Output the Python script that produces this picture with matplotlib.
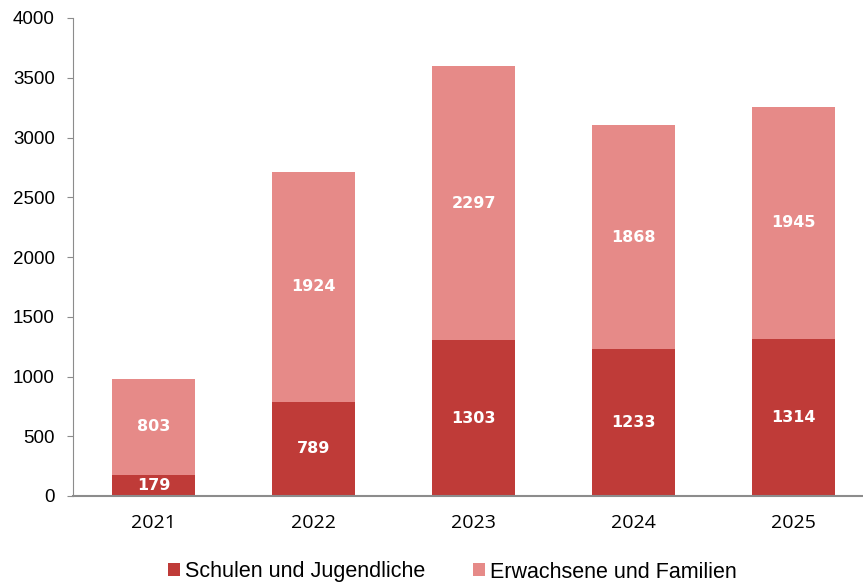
import matplotlib
matplotlib.use("Agg")
import matplotlib.pyplot as plt
import numpy as np

years = ["2021", "2022", "2023", "2024", "2025"]
schulen = [179, 789, 1303, 1233, 1314]
erwachsene = [803, 1924, 2297, 1868, 1945]
series_names = ["Schulen und Jugendliche", "Erwachsene und Familien"]
yticks = [0, 500, 1000, 1500, 2000, 2500, 3000, 3500, 4000]

c_dark = "#BF3B38"
c_light = "#E68A88"

plt.rcParams["font.family"] = ["Liberation Sans", "DejaVu Sans"]

fig = plt.figure(figsize=(8.63, 5.86), dpi=100)
ax = fig.add_axes([73/863, 1 - 496/586, (862-73)/863, (496-18)/586])

x = np.arange(len(years))
w = 0.52
b1 = ax.bar(x, schulen, w, color=c_dark, label=series_names[0])
b2 = ax.bar(x, erwachsene, w, bottom=schulen, color=c_light, label=series_names[1])

for rects, vals, bottoms in [(b1, schulen, [0]*5), (b2, erwachsene, schulen)]:
    for r, v, b in zip(rects, vals, bottoms):
        ax.text(r.get_x() + r.get_width()/2, b + v/2, str(v), ha="center", va="center",
                color="white", fontsize=11.5, fontweight="bold", family="DejaVu Sans")

ax.set_xlim(-0.506, 4.43)
ax.set_ylim(0, 4000)
ax.set_yticks(yticks)
ax.set_yticklabels([str(t) for t in yticks], fontsize=13.5)
ax.set_xticks(x)
ax.set_xticklabels(years, fontsize=14, family="Open Sans")
for s in ["top", "right"]:
    ax.spines[s].set_visible(False)
ax.spines["left"].set_color("#8c8c8c")
ax.spines["bottom"].set_color("#8c8c8c")
ax.spines["bottom"].set_linewidth(1.5)
ax.tick_params(axis="y", length=4, color="#8c8c8c", pad=9)
ax.tick_params(axis="x", length=0, pad=13)

leg = fig.legend(handles=[b1, b2], labels=series_names, loc="center",
                 bbox_to_anchor=(452.5/863, 1 - 572/586), ncol=2, frameon=False,
                 fontsize=15.5, handlelength=0.56, handleheight=0.56, handletextpad=0.25,
                 columnspacing=2.2, borderpad=0)

fig.savefig("out.png", dpi=100)
